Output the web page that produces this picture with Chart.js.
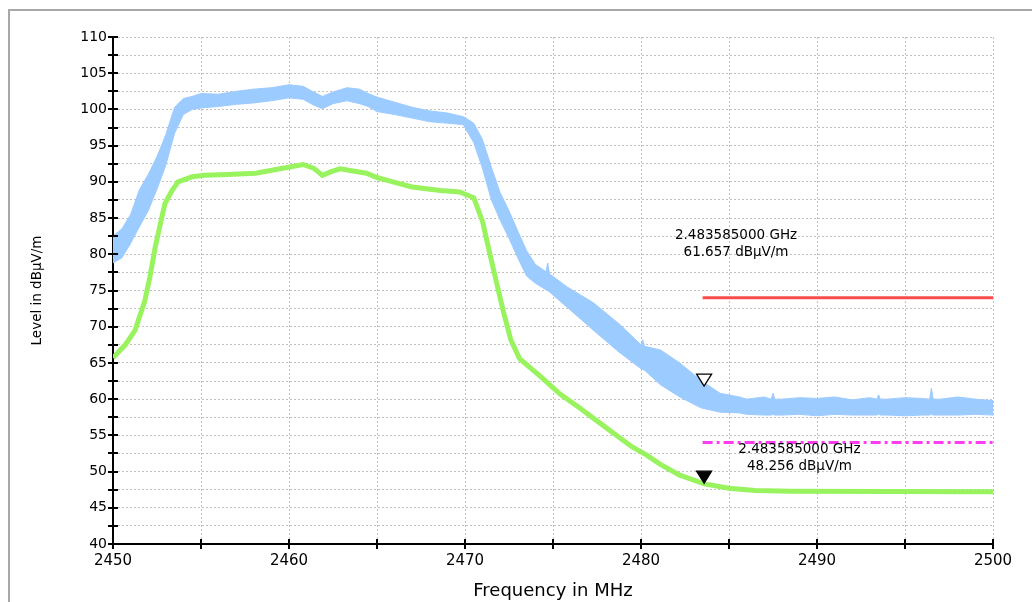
<!DOCTYPE html>
<html>
<head>
<meta charset="utf-8">
<script src="https://cdn.jsdelivr.net/npm/chart.js@4/dist/chart.umd.min.js"></script>
<style>
  body { margin: 0; background: #fff; }
  canvas { display: block; }
</style>
</head>
<body>
<canvas id="spectrum" width="1032" height="602"></canvas>
<script>
// peak trace (blue) is drawn as a band between its upper and lower edge
const freqBlue = [2450.0, 2450.5, 2451.0, 2451.5, 2452.0, 2452.5, 2453.0, 2453.5, 2454.0, 2454.5,
  2455.0, 2456.0, 2457.0, 2458.0, 2459.0, 2460.0, 2460.8, 2461.4, 2461.9, 2462.5,
  2463.3, 2464.0, 2464.5, 2465.0, 2466.0, 2467.0, 2468.0, 2469.0, 2469.9, 2470.5,
  2471.0, 2471.5, 2472.0, 2472.5, 2473.0, 2473.5, 2474.0, 2474.6, 2474.7, 2474.8, 2475.8,
  2477.3, 2478.8, 2480.0, 2480.1, 2480.2, 2481.1, 2482.2, 2483.4, 2484.5, 2485.6,
  2486.0, 2487.0, 2487.4, 2487.5, 2487.6, 2488.0, 2489.0, 2490.0, 2491.0, 2492.0,
  2493.0, 2493.4, 2493.5, 2493.6, 2494.0, 2495.0, 2496.0, 2496.4, 2496.5, 2496.6,
  2497.0, 2498.0, 2499.0, 2500.0];
const blueUpper = [82.5, 83.5, 85.5, 88.9, 91.0, 93.5, 96.5, 100.3, 101.5, 101.8,
  102.2, 102.1, 102.5, 102.8, 103.0, 103.4, 103.2, 102.4, 101.8, 102.4,
  103.0, 102.8, 102.2, 101.7, 101.0, 100.3, 99.8, 99.5, 99.0, 98.1,
  95.8, 92.0, 88.5, 86.0, 83.2, 80.5, 78.6, 77.6, 78.8, 77.3, 75.5,
  73.3, 70.3, 67.5, 68.2, 67.3, 66.8, 65.0, 62.6, 60.8, 60.3,
  60.0, 60.3, 60.0, 60.8, 60.0, 60.0, 60.2, 60.1, 60.3, 59.9,
  60.2, 60.0, 60.6, 60.0, 60.0, 60.2, 60.1, 60.0, 61.5, 60.0,
  60.0, 60.3, 60.0, 59.8];
const blueLower = [78.8, 79.5, 81.5, 83.8, 86.0, 89.0, 92.3, 96.7, 99.3, 100.0,
  100.2, 100.4, 100.7, 100.9, 101.2, 101.6, 101.4, 100.6, 100.1, 100.8,
  101.2, 100.8, 100.4, 99.7, 99.3, 98.8, 98.3, 98.1, 97.9, 95.4,
  91.8, 87.5, 84.7, 82.2, 79.5, 77.0, 76.0, 75.1, 75.0, 74.8, 72.7,
  69.5, 66.4, 64.2, 64.1, 64.0, 62.0, 60.3, 58.8, 58.2, 58.1,
  57.9, 57.8, 57.8, 57.9, 57.8, 57.8, 57.9, 57.7, 57.9, 57.8,
  57.8, 57.8, 57.9, 57.8, 57.8, 57.7, 57.8, 57.8, 57.9, 57.8,
  57.8, 57.8, 57.9, 57.8];

// average trace (green)
const freqGreen = [2450.0, 2450.7, 2451.25, 2451.8, 2452.1, 2452.4, 2452.7, 2452.95, 2453.35, 2453.7,
  2454.5, 2455.2, 2456.5, 2458.1, 2459.5, 2460.8, 2461.4, 2461.9, 2462.4, 2462.9,
  2464.4, 2465.0, 2465.9, 2467.0, 2468.6, 2469.7, 2470.5, 2471.0, 2471.4, 2471.8,
  2472.2, 2472.6, 2473.1, 2474.3, 2475.4, 2476.5, 2477.5, 2478.5, 2479.5, 2480.3,
  2481.1, 2482.2, 2483.6, 2485.0, 2486.5, 2488.5, 2500.0];
const greenLevel = [65.7, 67.5, 69.5, 73.5, 76.9, 81.0, 84.3, 87.0, 88.8, 90.0,
  90.7, 90.9, 91.0, 91.2, 91.8, 92.4, 91.9, 90.9, 91.4, 91.8,
  91.2, 90.6, 90.0, 89.3, 88.8, 88.6, 87.8, 84.5, 80.2, 76.0,
  71.9, 68.2, 65.6, 63.1, 60.7, 58.8, 57.0, 55.2, 53.4, 52.3,
  51.0, 49.5, 48.3, 47.7, 47.4, 47.3, 47.2];

// limit lines
const limitFreq = [2483.5, 2500];
const peakLimit = [74, 74];
const avgLimit = [54, 54];

// markers
const markerFreq = 2483.585;
const markerLevels = [61.657, 48.256];
const markerTexts = [['2.483585000 GHz', '61.657 dBµV/m'], ['2.483585000 GHz', '48.256 dBµV/m']];

const pts = (xs, ys) => xs.map((x, i) => ({ x: x, y: ys[i] }));

const BLUE = '#9ccbff';
const GREEN = '#98f35f';

const framePlugin = {
  id: 'frame',
  beforeDraw(chart) {
    const c = chart.ctx;
    c.save();
    c.fillStyle = '#fff';
    c.fillRect(0, 0, chart.width, chart.height);
    c.strokeStyle = '#a8a8a8';
    c.lineWidth = 2;
    c.strokeRect(9, 10, chart.width + 20, chart.height + 20);
    c.restore();
  }
};

// tick marks that cross the axis line
const crossTicks = {
  id: 'crossTicks',
  afterDraw(chart) {
    const c = chart.ctx;
    const xs = chart.scales.x, ys = chart.scales.y;
    c.save();
    c.strokeStyle = '#000';
    c.lineWidth = 2;
    c.beginPath();
    ys.ticks.forEach(t => {
      const py = Math.round(ys.getPixelForValue(t.value));
      c.moveTo(xs.left - 5, py);
      c.lineTo(xs.left + 5, py);
    });
    xs.ticks.forEach(t => {
      const px = Math.round(xs.getPixelForValue(t.value));
      c.moveTo(px, ys.bottom - 5);
      c.lineTo(px, ys.bottom + 5);
    });
    c.stroke();
    c.restore();
  }
};

const markers = {
  id: 'markers',
  afterDatasetsDraw(chart) {
    const c = chart.ctx;
    const xs = chart.scales.x, ys = chart.scales.y;
    const px = xs.getPixelForValue(markerFreq);
    c.save();
    markerLevels.forEach((lv, i) => {
      const py = ys.getPixelForValue(lv);
      c.beginPath();
      c.moveTo(px, py - 1);
      c.lineTo(px - 7.5, py - 13);
      c.lineTo(px + 7.5, py - 13);
      c.closePath();
      c.fillStyle = i === 0 ? '#fff' : '#000';
      c.fill();
      c.strokeStyle = '#000';
      c.lineWidth = 1.3;
      c.stroke();
    });
    // marker readouts
    c.fillStyle = '#000';
    c.font = '13.5px "DejaVu Sans"';
    c.textAlign = 'center';
    c.textBaseline = 'middle';
    const spots = [[2485.4, 82.6], [2489.0, 53.1]];
    markerTexts.forEach((lines, i) => {
      const tx = xs.getPixelForValue(spots[i][0]);
      const ty = ys.getPixelForValue(spots[i][1]);
      c.fillText(lines[0], tx, ty);
      c.fillText(lines[1], tx, ty + 17);
    });
    c.restore();
  }
};

new Chart(document.getElementById('spectrum'), {
  type: 'line',
  data: {
    datasets: [
      { data: pts(limitFreq, peakLimit), borderColor: '#ff4b4b', borderWidth: 3, pointRadius: 0, fill: false },
      { data: pts(limitFreq, avgLimit), borderColor: '#ff3cf0', borderWidth: 3, borderDash: [10, 4, 3, 4], pointRadius: 0, fill: false },
      { data: pts(freqGreen, greenLevel), borderColor: GREEN, borderWidth: 5, pointRadius: 0, fill: false },
      { data: pts(freqBlue, blueUpper), borderColor: BLUE, backgroundColor: BLUE, borderWidth: 1, pointRadius: 0, fill: '+1' },
      { data: pts(freqBlue, blueLower), borderColor: BLUE, borderWidth: 1, pointRadius: 0, fill: false }
    ]
  },
  options: {
    responsive: false,
    animation: false,
    layout: { padding: { top: 37, right: 39, left: 0, bottom: 0 } },
    plugins: { legend: { display: false }, tooltip: { enabled: false } },
    scales: {
      x: {
        type: 'linear',
        min: 2450,
        max: 2500,
        afterFit(s) { s.height = 58; },
        ticks: {
          stepSize: 5,
          autoSkip: false,
          maxRotation: 0,
          padding: 8,
          color: '#000',
          font: { family: 'DejaVu Sans', size: 15 },
          callback: v => (v % 10 === 0 ? String(v) : '')
        },
        grid: { color: '#c2c2c2', lineWidth: 1, drawTicks: false },
        border: { color: '#000', width: 2, dash: [2, 2] },
        title: {
          display: true,
          text: 'Frequency in MHz',
          color: '#000',
          font: { family: 'DejaVu Sans', size: 18 },
          padding: { top: 0, bottom: 0 }
        }
      },
      y: {
        min: 40,
        max: 110,
        afterFit(s) { s.width = 113; },
        ticks: {
          stepSize: 2.5,
          autoSkip: false,
          padding: 6,
          color: '#000',
          font: { family: 'DejaVu Sans', size: 14 },
          callback: v => (v % 5 === 0 ? String(v) : '')
        },
        grid: { color: '#c2c2c2', lineWidth: 1, drawTicks: false },
        border: { color: '#000', width: 2, dash: [2, 2] },
        title: {
          display: true,
          text: 'Level in dBµV/m',
          color: '#000',
          font: { family: 'DejaVu Sans', size: 13.5 },
          padding: { top: 29, bottom: 0 }
        }
      }
    }
  },
  plugins: [framePlugin, crossTicks, markers]
});
</script>
</body>
</html>
